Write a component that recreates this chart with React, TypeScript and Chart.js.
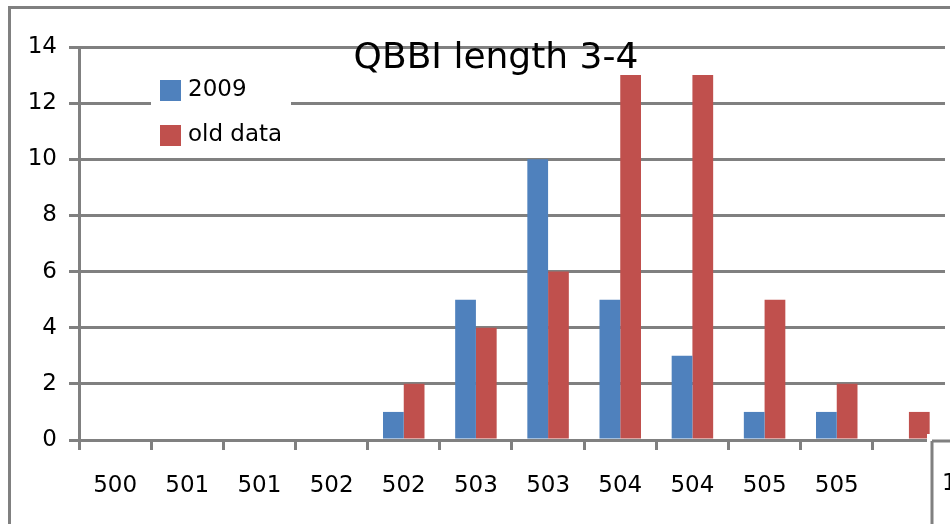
import React, { useEffect, useRef } from "react";
import { Chart, registerables } from "chart.js";

Chart.register(...registerables);

const categories = ["500", "501", "501", "502", "502", "503", "503", "504", "504", "505", "505", ""];
const series2009 = [0, 0, 0, 0, 1, 5, 10, 5, 3, 1, 1, 0];
const seriesOld = [0, 0, 0, 0, 2, 4, 6, 13, 13, 5, 2, 1];
const seriesNames = ["2009", "old data"];
const titleText = "QBBI length 3-4";
const cornerText = "1";

const BLUE = "#4F81BD";
const RED = "#C0504D";
const GRID = "#808080";
const FONT = "DejaVu Sans";

const overlayPlugin = {
  id: "overlay",
  afterDraw(chart: any) {
    const ctx = chart.ctx;
    ctx.save();
    // outer border
    ctx.strokeStyle = GRID;
    ctx.lineWidth = 3;
    ctx.strokeRect(9.5, 7.5, 2000, 2000);

    // bottom-right box
    ctx.fillStyle = "#ffffff";
    ctx.fillRect(927, 434, 40, 100);
    ctx.beginPath();
    ctx.moveTo(932, 441);
    ctx.lineTo(960, 441);
    ctx.moveTo(932, 441);
    ctx.lineTo(932, 530);
    ctx.stroke();
    ctx.fillStyle = "#000";
    ctx.font = `23px ${FONT}`;
    ctx.textBaseline = "middle";
    ctx.textAlign = "left";
    ctx.fillText(cornerText, 942, 484);

    // title
    ctx.font = `36px ${FONT}`;
    ctx.textAlign = "center";
    ctx.textBaseline = "alphabetic";
    ctx.fillStyle = "#000";
    ctx.fillText(titleText, 496, 68);

    // legend
    ctx.fillStyle = "#ffffff";
    ctx.fillRect(151, 70, 140, 80);
    const colors = [BLUE, RED];
    const ys = [90, 135];
    ctx.font = `23px ${FONT}`;
    ctx.textAlign = "left";
    ctx.textBaseline = "middle";
    for (let i = 0; i < seriesNames.length; i++) {
      ctx.fillStyle = colors[i];
      ctx.fillRect(160, ys[i] - 10, 21, 21);
      ctx.fillStyle = "#000";
      ctx.fillText(seriesNames[i], 188, ys[i]);
    }
    ctx.restore();
  },
};

export default function App() {
  const ref = useRef<HTMLCanvasElement | null>(null);
  useEffect(() => {
    if (!ref.current) return;
    const chart = new Chart(ref.current, {
      type: "bar",
      data: {
        labels: categories,
        datasets: [
          { label: seriesNames[0], data: series2009, backgroundColor: BLUE, borderWidth: 0 },
          { label: seriesNames[1], data: seriesOld, backgroundColor: RED, borderWidth: 0 },
        ],
      },
      options: {
        animation: false,
        responsive: false,
        devicePixelRatio: 1,
        layout: { padding: { left: 0, top: 47, right: 5, bottom: 0 } },
        plugins: {
          legend: { display: false },
          title: { display: false },
          tooltip: { enabled: false },
        },
        datasets: {
          bar: { categoryPercentage: 0.575, barPercentage: 1 },
        },
        scales: {
          x: {
            offset: true,
            grid: {
              offset: true,
              drawOnChartArea: false,
              drawTicks: true,
              tickLength: 10,
              color: GRID,
              lineWidth: 3,
            },
            border: { display: true, color: GRID, width: 3 },
            ticks: {
              color: "#000",
              font: { family: FONT, size: 23 },
              padding: 22,
              maxRotation: 0,
              autoSkip: false,
            },
            afterFit(scale: any) {
              scale.height = 84;
            },
          },
          y: {
            min: 0,
            max: 14,
            ticks: {
              stepSize: 2,
              color: "#000",
              font: { family: FONT, size: 23 },
              padding: 12,
            },
            grid: {
              drawOnChartArea: true,
              drawTicks: true,
              tickLength: 10,
              color: GRID,
              lineWidth: 3,
            },
            border: { display: true, color: GRID, width: 3 },
            afterFit(scale: any) {
              scale.width = 79;
            },
          },
        },
      },
      plugins: [overlayPlugin],
    });
    return () => chart.destroy();
  }, []);
  return (
    <div style={{ position: "absolute", left: 0, top: 0, width: 950, height: 524, overflow: "hidden", background: "#fff" }}>
      <canvas ref={ref} width={950} height={524} style={{ display: "block" }} />
    </div>
  );
}
